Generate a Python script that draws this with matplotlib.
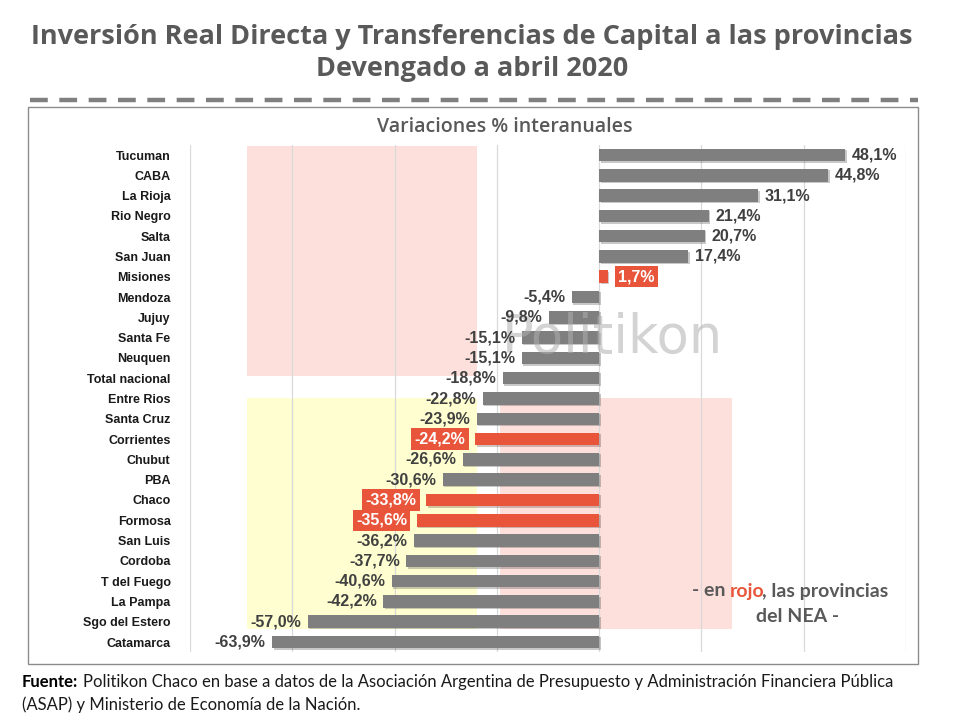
import matplotlib
matplotlib.use("Agg")
import matplotlib.pyplot as plt
import matplotlib.patheffects as pe
from matplotlib.patches import Rectangle
from matplotlib.lines import Line2D

############## Data ##############################################################
provincias = ["Tucuman", "CABA", "La Rioja", "Rio Negro", "Salta", "San Juan",
              "Misiones", "Mendoza", "Jujuy", "Santa Fe", "Neuquen",
              "Total nacional", "Entre Rios", "Santa Cruz", "Corrientes",
              "Chubut", "PBA", "Chaco", "Formosa", "San Luis", "Cordoba",
              "T del Fuego", "La Pampa", "Sgo del Estero", "Catamarca"]
variacion = [48.1, 44.8, 31.1, 21.4, 20.7, 17.4, 1.7, -5.4, -9.8, -15.1, -15.1,
             -18.8, -22.8, -23.9, -24.2, -26.6, -30.6, -33.8, -35.6, -36.2,
             -37.7, -40.6, -42.2, -57.0, -63.9]
nea = ["Misiones", "Corrientes", "Chaco", "Formosa"]

gris = "#7f7f7f"
rojo = "#e8553a"
texto = "#404040"
narrow = ["Liberation Sans Narrow", "Liberation Sans", "DejaVu Sans"]

############## Figure ##############################################################
fig = plt.figure(figsize=(9.6, 7.2), dpi=100)
W, H = 960, 720

def fx(px):
    return px / W

def fy(py):
    return 1 - py / H

# title
fig.text(fx(472), fy(37), "Inversión Real Directa y Transferencias de Capital a las provincias",
         ha="center", va="center", fontsize=19.5, fontweight="bold", color="#595959",
         family="Open Sans")
fig.text(fx(472), fy(69), "Devengado a abril 2020", ha="center", va="center",
         fontsize=19.5, fontweight="bold", color="#595959", family="Open Sans")

# dashed separator
fig.add_artist(Line2D([fx(30), fx(918)], [fy(100), fy(100)], color=gris, lw=3.2,
                      dashes=(4.0, 2.6), transform=fig.transFigure))

# panel frame
fig.add_artist(Rectangle((fx(28), fy(664)), fx(918) - fx(28), fy(107) - fy(664),
                         transform=fig.transFigure, fill=False, ec="#8c8c8c", lw=1))
fig.text(fx(505), fy(127), "Variaciones % interanuales", ha="center", va="center",
         fontsize=14, fontweight="semibold", color="#595959", family="Open Sans")

############## Axes ##############################################################
n = len(provincias)
top_px, row_px = 155, (642 - 155) / (n - 1)
ax_top = top_px - row_px / 2
ax_bot = ax_top + row_px * n
ax = fig.add_axes([fx(190), fy(ax_bot), fx(906) - fx(190), (ax_bot - ax_top) / H])
ax.set_xlim(-80, 60)
ax.set_ylim(n - 0.5, -0.5)
for s in ax.spines.values():
    s.set_visible(False)
ax.set_xticks(range(-80, 61, 20))
ax.set_xticklabels([])
ax.tick_params(length=0)
ax.grid(axis="x", color="#d9d9d9", lw=0.9)
ax.set_axisbelow(True)

# background highlight boxes
ax.add_patch(Rectangle((-68.9, -0.44), 45.1, 11.33, fc="#fde0dc", ec="none", zorder=0.5))
ax.add_patch(Rectangle((-68.9, 11.98), 45.1, 11.38, fc="#fefed0", ec="none", zorder=0.5))
ax.add_patch(Rectangle((-19.3, 11.98), 45.3, 11.38, fc="#fde0dc", ec="none", zorder=0.5))

colores = [rojo if p in nea else gris for p in provincias]
bars = ax.barh(range(n), variacion, height=0.62, color=colores, zorder=2)
for b in bars:
    b.set_path_effects([pe.SimplePatchShadow(offset=(1, -1), alpha=0.25), pe.Normal()])

# watermark
ax.text(2.6, 9.0, "Politikon", ha="center", va="center", fontsize=38,
        color="#b0b0b0", alpha=0.55, family="DejaVu Sans", zorder=2.5)

ax.set_yticks(range(n))
ax.set_yticklabels(provincias, fontsize=9, fontweight="bold", color="#1a1a1a",
                   family="Liberation Sans")
ax.tick_params(axis="y", pad=14)

for i, (p, v) in enumerate(zip(provincias, variacion)):
    lab = f"{v:.1f}%".replace(".", ",")
    off = 1.3 if v >= 0 else -1.3
    ha = "left" if v >= 0 else "right"
    if p in nea:
        ax.text(v + off * 1.5, i, lab, ha=ha, va="center", fontsize=11.5,
                fontweight="bold", color="white", family=narrow, zorder=3,
                bbox=dict(boxstyle="square,pad=0.2", fc=rojo, ec="none"))
    else:
        ax.text(v + off, i, lab, ha=ha, va="center", fontsize=11.5,
                fontweight="bold", color=texto, family=narrow, zorder=3)

# note
fig.text(fx(730), fy(591), "- en ", ha="right", va="center", fontsize=14,
         fontweight="bold", color="#595959", family="Lato")
fig.text(fx(730), fy(591), "rojo", ha="left", va="center", fontsize=14,
         fontweight="bold", color=rojo, family="Lato")
fig.text(fx(762), fy(591), ", las provincias", ha="left", va="center", fontsize=14,
         fontweight="bold", color="#595959", family="Lato")
fig.text(fx(798), fy(617), "del NEA -", ha="center", va="center", fontsize=14,
         fontweight="bold", color="#595959", family="Lato")

# footer
fig.text(fx(22), fy(682), "Fuente:", ha="left", va="center", fontsize=12,
         fontweight="bold", color="black", family="Lato")
fig.text(fx(83), fy(682),
         "Politikon Chaco en base a datos de la Asociación Argentina de Presupuesto y Administración Financiera Pública",
         ha="left", va="center", fontsize=12, color="#1a1a1a", family="Lato")
fig.text(fx(22), fy(705), "(ASAP) y Ministerio de Economía de la Nación.", ha="left",
         va="center", fontsize=12, color="#1a1a1a", family="Lato")

fig.savefig("out.png", dpi=100)
